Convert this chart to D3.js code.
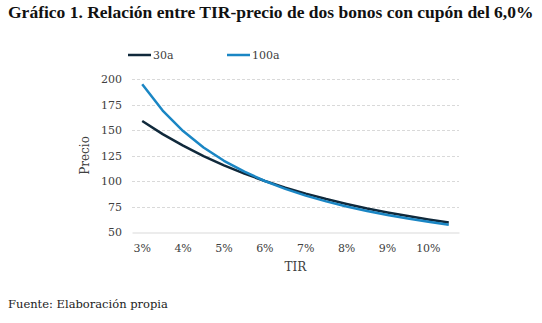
<!DOCTYPE html>
<html>
<head>
<meta charset="utf-8">
<script src="https://cdn.jsdelivr.net/npm/d3@7"></script>
<style>
  body { margin: 0; background: #fff; }
</style>
</head>
<body>
<div id="viz"></div>
<script>
const width = 542;
const height = 323;
const margin = {top: 79, right: 83, bottom: 92, left: 132};
const serif = '"DejaVu Serif", "Liberation Serif", serif';

// yields (TIR) every half point, labels shown on whole points
const tir = [3, 3.5, 4, 4.5, 5, 5.5, 6, 6.5, 7, 7.5, 8, 8.5, 9, 9.5, 10, 10.5];
const precio30 = [158.8, 146.0, 134.6, 124.4, 115.4, 107.3, 100.0, 93.5, 87.6, 82.3, 77.5, 73.1, 69.2, 65.6, 62.3, 59.3];
const precio100 = [194.8, 169.1, 149.0, 132.9, 119.8, 109.1, 100.0, 92.3, 85.7, 80.0, 75.0, 70.6, 66.7, 63.2, 60.0, 57.2];
const yTicks = [50, 75, 100, 125, 150, 175, 200];

const series = [
    {name: '30a', values: precio30, color: '#10293b'},
    {name: '100a', values: precio100, color: '#1a86c4'}
];

const svg = d3.select('#viz')
    .append('svg')
        .attr('width', width)
        .attr('height', height)
        .style('font-family', serif);

// category axis, like a spreadsheet line chart
const x = d3.scaleBand()
    .domain(tir)
    .range([margin.left, width - margin.right]);
const xc = d => x(d) + x.bandwidth() / 2;

const y = d3.scaleLinear()
    .domain([50, 200])
    .range([height - margin.bottom + 1, margin.top]);

// Title, shrunk until it fits the width
const title = svg.append('text')
    .attr('x', 8)
    .attr('y', 18)
    .attr('font-family', '"Liberation Serif", serif')
    .attr('font-weight', 'bold')
    .attr('font-size', 18)
    .attr('fill', '#111')
    .text('Gráfico 1. Relación entre TIR-precio de dos bonos con cupón del 6,0%');
let fs = 18;
while (title.node().getComputedTextLength() > 527 && fs > 10) {
    fs -= 0.1;
    title.attr('font-size', fs);
}

// Gridlines
svg.append('g')
    .selectAll('line')
    .data(yTicks.filter(d => d > 50))
    .join('line')
        .attr('x1', margin.left)
        .attr('x2', width - margin.right)
        .attr('y1', d => Math.round(y(d)) + 0.5)
        .attr('y2', d => Math.round(y(d)) + 0.5)
        .attr('stroke', '#d9d9d9')
        .attr('stroke-dasharray', '3,2');

// Y axis (labels only)
const yAxis = svg.append('g')
    .attr('transform', `translate(${margin.left},0)`)
    .call(d3.axisLeft(y).tickValues(yTicks).tickSize(0).tickPadding(10));
yAxis.select('.domain').remove();
yAxis.attr('font-family', serif)
    .attr('font-size', 11);
yAxis.selectAll('text')
    .attr('fill', '#404040');

// X axis
const xAxis = svg.append('g')
    .attr('transform', `translate(0,${Math.round(y(50)) + 0.5})`)
    .call(d3.axisBottom(x)
        .tickValues(tir.filter(d => Number.isInteger(d)))
        .tickFormat(d => d + '%')
        .tickSize(0)
        .tickPadding(12));
xAxis.attr('font-family', serif)
    .attr('font-size', 11);
xAxis.select('.domain')
    .attr('stroke', '#d9d9d9')
    .attr('stroke-width', 1.2);
xAxis.selectAll('text')
    .attr('fill', '#404040');

// Axis titles
svg.append('text')
    .attr('transform', `translate(89,${(y(200) + y(50)) / 2}) rotate(-90)`)
    .attr('text-anchor', 'middle')
    .attr('font-size', 12)
    .attr('fill', '#404040')
    .text('Precio');

svg.append('text')
    .attr('x', (x.range()[0] + x.range()[1]) / 2)
    .attr('y', 271)
    .attr('text-anchor', 'middle')
    .attr('font-size', 12)
    .attr('fill', '#404040')
    .text('TIR');

// Lines
const line = d3.line()
    .x((d, i) => xc(tir[i]))
    .y(d => y(d));

svg.append('g')
    .selectAll('path')
    .data(series)
    .join('path')
        .attr('d', d => line(d.values))
        .attr('fill', 'none')
        .attr('stroke', d => d.color)
        .attr('stroke-width', 2.5)
        .attr('stroke-linejoin', 'round');

// Legend
const legend = svg.append('g')
    .selectAll('g')
    .data(series)
    .join('g')
        .attr('transform', (d, i) => `translate(${128 + i * 99},55)`);
legend.append('line')
    .attr('x1', 0)
    .attr('x2', 23)
    .attr('stroke', d => d.color)
    .attr('stroke-width', 2.5);
legend.append('text')
    .attr('x', 25)
    .attr('y', 4)
    .attr('font-size', 11)
    .attr('fill', '#404040')
    .text(d => d.name);

// Source note
svg.append('text')
    .attr('x', 8)
    .attr('y', 308)
    .attr('font-size', 11.5)
    .attr('fill', '#222')
    .text('Fuente: Elaboración propia');
</script>
</body>
</html>
